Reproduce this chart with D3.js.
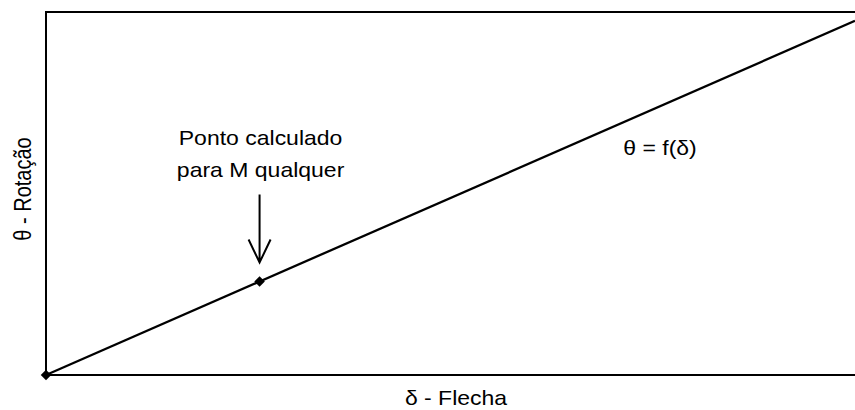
<!DOCTYPE html>
<html>
<head>
<meta charset="utf-8">
<script src="https://cdn.jsdelivr.net/npm/d3@7"></script>
<style>
  body { margin: 0; background: #fff; }
  text { font-family: Arial, "Liberation Sans", sans-serif; fill: #000; }
</style>
</head>
<body>
<div id="chart"></div>
<script>
// curve theta = f(delta), normalised
var deltaValues = [0, 1];
var thetaValues = [0, 1];
// computed point for some M
var pointDelta = [0, 0.264];
var pointTheta = [0, 0.264];

var xLabel = "\u03b4 - Flecha";
var yLabel = "\u03b8 - Rota\u00e7\u00e3o";
var curveLabel = "\u03b8 = f(\u03b4)";
var noteLines = ["Ponto calculado", "para M qualquer"];

function init() {
  var w = 855, h = 410;
  var stretch = 1.15; // text in the original is widened

  var svg = d3.select("#chart").append("svg")
    .attr("width", w).attr("height", h);

  var x = d3.scaleLinear().domain([0, 1]).range([46, 855]);
  var y = d3.scaleLinear().domain([0, 1.025]).range([375, 12]);

  // frame: left, top, bottom
  svg.append("path")
    .attr("d", "M" + x(0) + "," + y(0) + "V" + y(1.025) + "H" + w)
    .attr("fill", "none").attr("stroke", "#000").attr("stroke-width", 2);
  svg.append("line")
    .attr("x1", x(0)).attr("x2", w)
    .attr("y1", y(0)).attr("y2", y(0))
    .attr("stroke", "#000").attr("stroke-width", 2);

  // curve
  var line = d3.line()
    .x(function(d, i) { return x(deltaValues[i]); })
    .y(function(d, i) { return y(thetaValues[i]); });
  svg.append("path")
    .datum(deltaValues)
    .attr("d", line)
    .attr("fill", "none").attr("stroke", "#000").attr("stroke-width", 2.3);

  // markers
  svg.selectAll(".pt")
    .data(pointDelta)
    .enter().append("path")
    .attr("class", "pt")
    .attr("d", d3.symbol().type(d3.symbolDiamond2).size(70))
    .attr("transform", function(d, i) {
      return "translate(" + x(d) + "," + y(pointTheta[i]) + ")";
    })
    .attr("fill", "#000");

  // arrow to the computed point
  var px = x(pointDelta[1]), py = y(pointTheta[1]);
  svg.append("path")
    .attr("d", "M" + px + "," + (py - 87) + "V" + (py - 19) +
               "M" + (px - 11) + "," + (py - 42) + "L" + px + "," + (py - 19) +
               "L" + (px + 11) + "," + (py - 42))
    .attr("fill", "none").attr("stroke", "#000").attr("stroke-width", 2);

  // note text
  noteLines.forEach(function(t, i) {
    svg.append("text")
      .attr("transform", "translate(" + (px + 1) + "," + (145 + i * 32) + ") scale(" + stretch + ",1)")
      .attr("text-anchor", "middle")
      .attr("font-size", 20)
      .text(t);
  });

  svg.append("text")
    .attr("transform", "translate(660,155) scale(" + stretch + ",1)")
    .attr("text-anchor", "middle")
    .attr("font-size", 20)
    .text(curveLabel);

  svg.append("text")
    .attr("transform", "translate(456,405) scale(" + stretch + ",1)")
    .attr("text-anchor", "middle")
    .attr("font-size", 20)
    .text(xLabel);

  svg.append("text")
    .attr("transform", "translate(31,189) scale(" + stretch + ",1) rotate(-90)")
    .attr("text-anchor", "middle")
    .attr("font-size", 20)
    .text(yLabel);
}

window.onload = init;
</script>
</body>
</html>
